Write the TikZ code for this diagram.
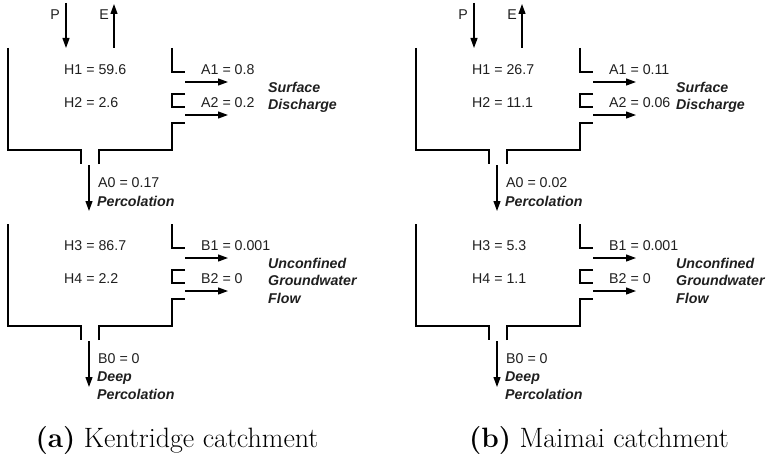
\documentclass[tikz,border=0pt]{standalone}
\usepackage{fontspec}
\newfontfamily\labfont{Liberation Sans}
\usetikzlibrary{arrows.meta}
\tikzset{
  wall/.style={line width=2.2pt, line join=miter},
  flow/.style={line width=1.2pt, -{Triangle[length=10pt,width=7pt]}},
  lab/.style={font=\labfont\fontsize{14.2}{17}\selectfont, inner sep=0pt, text=black!88},
  side/.style={font=\labfont\fontsize{14.2}{17.5}\selectfont\bfseries\itshape, inner sep=0pt, align=left, anchor=north west, text=black!88},
  captext/.style={font=\fontsize{28}{32}\selectfont, inner sep=0pt, anchor=base},
}
% #1 prefix, #2 Htop, #3 Hbot, #4 Atop, #5 Abot, #6 A0, #7 side label, #8 bottom label
\newcommand{\tankdraw}[8]{%
  \draw[wall] (8,48) -- (8,150) -- (81,150) -- (81,164);
  \draw[wall] (99,164) -- (99,150) -- (172,150) -- (172,123) -- (185,123);
  \draw[wall] (172,48) -- (172,72) -- (185,72);
  \draw[wall] (185,94) -- (172,94) -- (172,107) -- (185,107);
  \coordinate (#1a1s) at (185,82);  \coordinate (#1a1e) at (228,82);
  \coordinate (#1a2s) at (185,115); \coordinate (#1a2e) at (228,115);
  \coordinate (#1a0s) at (89,165);  \coordinate (#1a0e) at (89,211);
  \draw[flow] (#1a1s) -- (#1a1e);
  \draw[flow] (#1a2s) -- (#1a2e);
  \draw[flow] (#1a0s) -- (#1a0e);
  \node[lab, anchor=west] (#1ht) at (64,70) {#2};
  \node[lab, anchor=west] (#1hb) at (64,103) {#3};
  \node[lab, anchor=west] (#1at) at (201,70) {#4};
  \node[lab, anchor=west] (#1ab) at (201,103) {#5};
  \node[lab, anchor=west] (#1az) at (98,183) {#6};
  \node[side] (#1sd) at (268,82) {#7};
  \node[side] (#1bt) at (97,196) {#8};
}
\begin{document}
\begin{tikzpicture}[x=1pt, y=-1pt]
\useasboundingbox (0,0) rectangle (767,460);
\foreach \dx/\p/\ha/\hb/\aa/\ab/\az/\hc/\hd/\ba/\bb in {0/L/59.6/2.6/0.8/0.2/0.17/86.7/2.2/0.001/0, 408/R/26.7/11.1/0.11/0.06/0.02/5.3/1.1/0.001/0}{
  \begin{scope}[shift={(\dx,0)}]
    \coordinate (\p ps) at (66,3);   \coordinate (\p pe) at (66,48);
    \coordinate (\p es) at (114,48); \coordinate (\p ee) at (114,4);
    \draw[flow] (\p ps) -- (\p pe);
    \draw[flow] (\p es) -- (\p ee);
    \node[lab] (\p P) at (55,15) {P};
    \node[lab] (\p E) at (104,15) {E};
    \tankdraw{\p u}{H1 = \ha}{H2 = \hb}{A1 = \aa}{A2 = \ab}{A0 = \az}{Surface\\Discharge}{Percolation}
  \end{scope}
  \begin{scope}[shift={(\dx,176)}]
    \tankdraw{\p l}{H3 = \hc}{H4 = \hd}{B1 = \ba}{B2 = \bb}{B0 = 0}{Unconfined\\Groundwater\\Flow}{Deep\\Percolation}
  \end{scope}
}
\node[captext] (capa) at (177,447) {\textbf{(a)} Kentridge catchment};
\node[captext] (capb) at (599,447) {\textbf{(b)} Maimai catchment};
\end{tikzpicture}
\end{document}
